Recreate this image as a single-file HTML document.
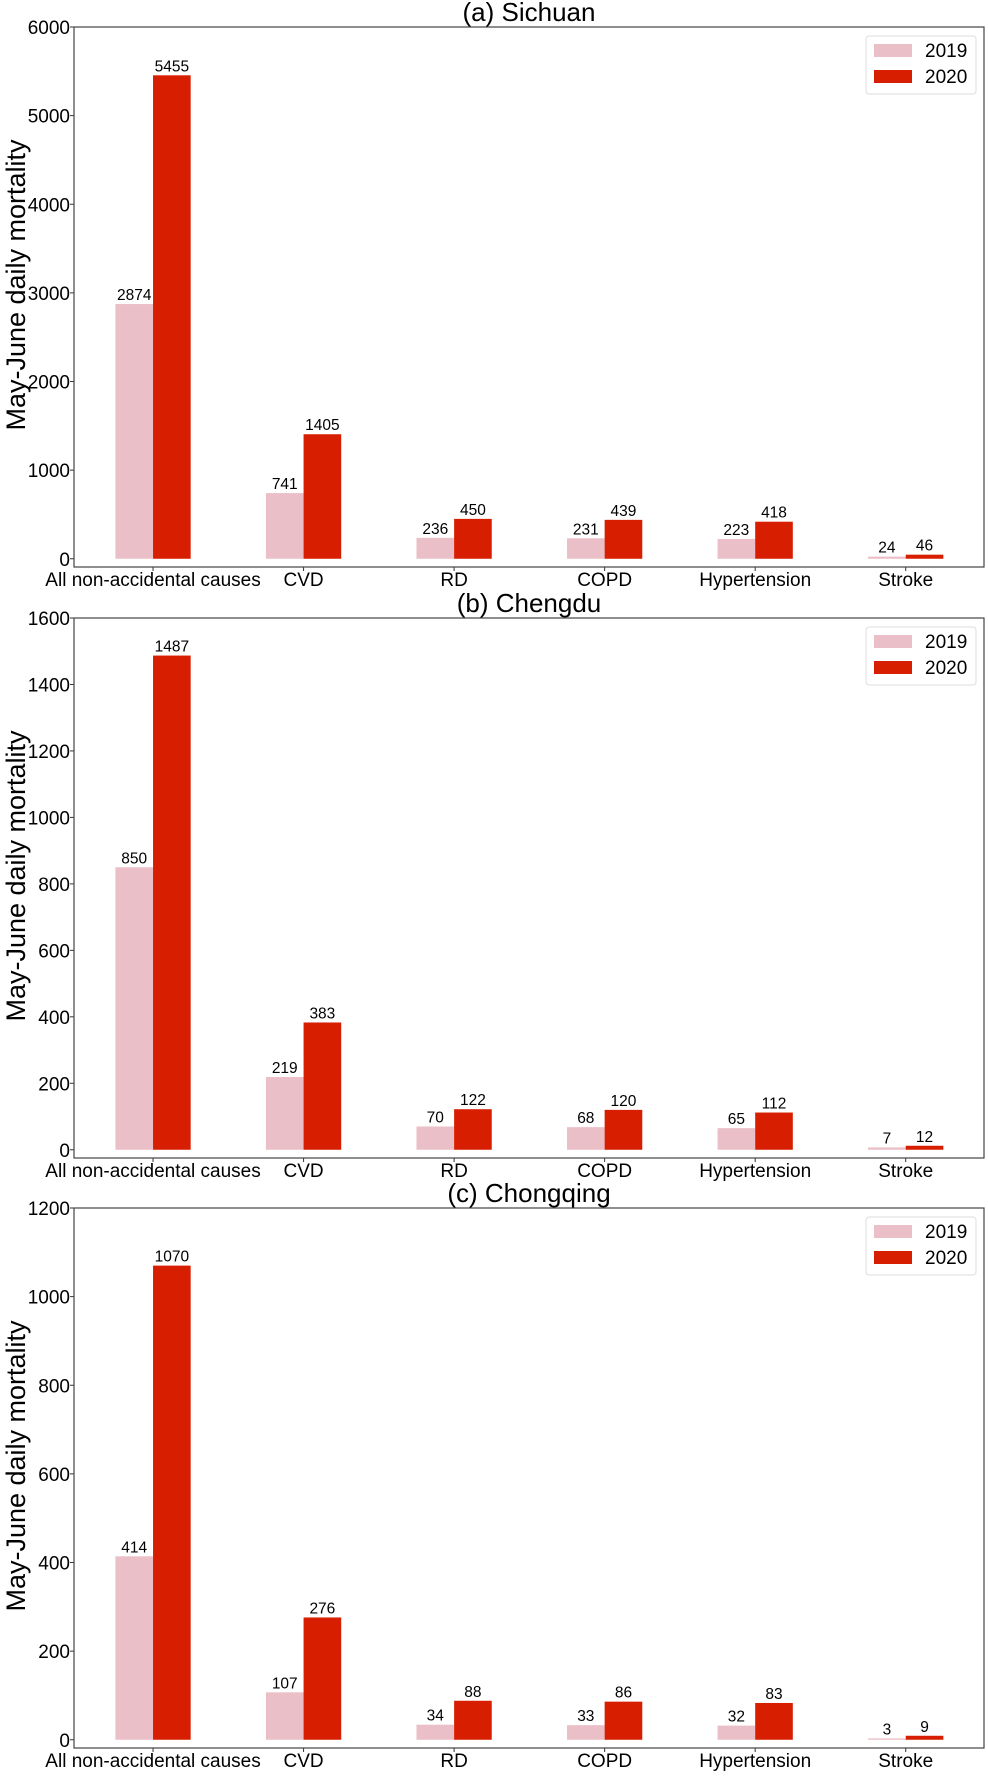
<!DOCTYPE html>
<html><head><meta charset="utf-8"><style>
html,body{margin:0;padding:0;background:#fff;}
svg text{font-family:"Liberation Sans",Arial,sans-serif;fill:#000;}
</style></head><body>
<svg id="fig" width="988" height="1772" viewBox="0 0 988 1772" xmlns="http://www.w3.org/2000/svg"></svg>
<script>
const categories = ["All non-accidental causes","CVD","RD","COPD","Hypertension","Stroke"];
const titles = ["(a) Sichuan","(b) Chengdu","(c) Chongqing"];
const sichuan2019 = [2874,741,236,231,223,24];
const sichuan2020 = [5455,1405,450,439,418,46];
const chengdu2019 = [850,219,70,68,65,7];
const chengdu2020 = [1487,383,122,120,112,12];
const chongqing2019 = [414,107,34,33,32,3];
const chongqing2020 = [1070,276,88,86,83,9];
const sichuanTicks = [0,1000,2000,3000,4000,5000,6000];
const chengduTicks = [0,200,400,600,800,1000,1200,1400,1600];
const chongqingTicks = [0,200,400,600,800,1000,1200];
const yMaxes = [6000,1600,1200];
const seriesNames = ["2019","2020"];

const panels = [
  {s1:sichuan2019,s2:sichuan2020,ticks:sichuanTicks,top:27},
  {s1:chengdu2019,s2:chengdu2020,ticks:chengduTicks,top:618},
  {s1:chongqing2019,s2:chongqing2020,ticks:chongqingTicks,top:1208}
];
const NS="http://www.w3.org/2000/svg";
const svg=document.getElementById('fig');
const L=74,R=984,H=540,X0=-0.525,X1=5.52;
const C1="#ebbfc7",C2="#d81e00";
function mk(tag,attrs,parent){const e=document.createElementNS(NS,tag);for(const k in attrs)e.setAttribute(k,attrs[k]);(parent||svg).appendChild(e);return e;}
function xs(v){return L+(v-X0)/(X1-X0)*(R-L);}

panels.forEach((p,pi)=>{
  const g=mk('g',{});
  
  
  const top=p.top,bot=top+H,yMax=yMaxes[pi],yMin=-0.0155*yMax;
  const ys=v=>bot-(v-yMin)/(yMax-yMin)*H;
  const t=mk('text',{x:(L+R)/2,y:top-6,'font-size':26,'text-anchor':'middle'},g);
  t.textContent=titles[pi];
  
  
  const yl=mk('text',{x:0,y:0,'font-size':27,'text-anchor':'middle',transform:`translate(25,${top+H/2-12}) rotate(-90)`},g);
  yl.textContent="May-June daily mortality";
  
  
  p.ticks.forEach(v=>{
    const y=ys(v);
    mk('line',{x1:L-4,x2:L,y1:y,y2:y,stroke:'#333','stroke-width':1},g);
    const tl=mk('text',{x:L-4,y:y+7,'font-size':19,'text-anchor':'end'},g);
    tl.textContent=v;
    
    
  });
  categories.forEach((c,i)=>{
    const cx=xs(i);
    const bw=xs(0.25)-xs(0);
    const b1=mk('rect',{x:cx-bw,y:ys(p.s1[i]),width:bw,height:ys(0)-ys(p.s1[i]),fill:C1},g);
    
    
    const b2=mk('rect',{x:cx,y:ys(p.s2[i]),width:bw,height:ys(0)-ys(p.s2[i]),fill:C2},g);
    
    
    const v1=mk('text',{x:cx-bw/2,y:ys(p.s1[i])-4,'font-size':15.5,'text-anchor':'middle'},g);
    v1.textContent=p.s1[i];
    
    
    const v2=mk('text',{x:cx+bw/2,y:ys(p.s2[i])-4,'font-size':15.5,'text-anchor':'middle'},g);
    v2.textContent=p.s2[i];
    
    
    mk('line',{x1:cx,x2:cx,y1:bot,y2:bot+4,stroke:'#333','stroke-width':1},g);
    const xl=mk('text',{x:cx,y:bot+19,'font-size':19,'text-anchor':'middle'},g);
    xl.textContent=c;
    
    
  });
  const fr=mk('rect',{x:L,y:top,width:R-L,height:H,fill:'none',stroke:'#444','stroke-width':1.2},g);
  
  
  const lg=mk('g',{},g);
  
  
  mk('rect',{x:866,y:top+9,width:110,height:58,rx:3,fill:'#fff',stroke:'#ddd','stroke-width':1},lg);
  [C1,C2].forEach((col,k)=>{
    const r=mk('rect',{x:874,y:top+17+k*26,width:38,height:13,fill:col},lg);
    
    
    const lt=mk('text',{x:925,y:top+30+k*26,'font-size':19},lg);
    lt.textContent=seriesNames[k];
    
    
  });
});
</script>
</body></html>
